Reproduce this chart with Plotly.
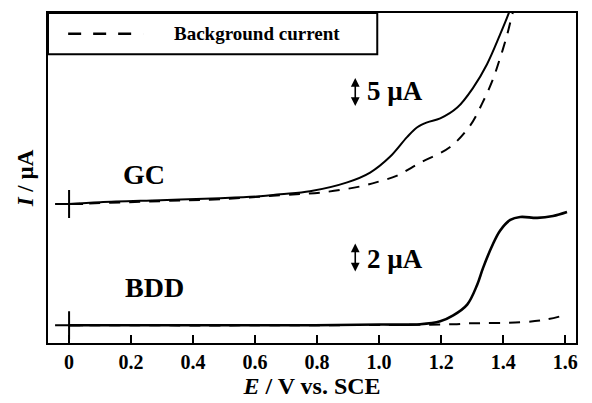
import plotly.graph_objects as go

# ---- data (E in V vs. SCE, current in µA relative to each curve's start) ----
gc_E = [0.0, 0.10, 0.294, 0.487, 0.616, 0.681, 0.777, 0.897, 0.971, 1.035, 1.09,
        1.123, 1.155, 1.197, 1.252, 1.303, 1.348, 1.39, 1.416, 1.439]
gc_I = [0.0, 0.33, 0.67, 1.0, 1.33, 1.67, 2.17, 3.67, 5.33, 8.0, 11.33,
        13.0, 13.83, 14.5, 16.33, 19.67, 23.67, 28.67, 32.0, 35.5]

gc_bg_E = [0.0, 0.294, 0.487, 0.681, 0.82, 0.94, 1.0, 1.058, 1.132, 1.229, 1.294,
           1.332, 1.365, 1.39, 1.413, 1.429, 1.448]
gc_bg_I = [0.0, 0.5, 0.83, 1.5, 2.0, 3.0, 3.83, 4.83, 7.0, 9.67, 13.33,
           17.0, 20.83, 24.67, 28.67, 32.0, 35.5]

bdd_E = [0.0, 0.423, 0.745, 1.003, 1.132, 1.197, 1.239, 1.284, 1.316, 1.335, 1.365,
         1.39, 1.423, 1.455, 1.51, 1.561, 1.606]
bdd_I = [0.0, 0.0, 0.0, 0.05, 0.07, 0.27, 0.67, 1.4, 2.73, 3.87, 5.4,
         6.4, 7.13, 7.33, 7.27, 7.4, 7.67]

bdd_bg_E = [0.0, 0.745, 1.239, 1.29, 1.455, 1.542, 1.606]
bdd_bg_I = [0.0, 0.0, 0.07, 0.13, 0.2, 0.4, 0.73]

# display stacking (offset and scale of each electrode's trace, arbitrary units)
gc_offset, gc_scale = 141, 6.0     # 5 µA bar
bdd_offset, bdd_scale = 18, 15.0   # 2 µA bar
gc_bar_uA, bdd_bar_uA = 5, 2

x_ticks = [0, 0.2, 0.4, 0.6, 0.8, 1.0, 1.2, 1.4, 1.6]
x_tick_text = ["0", "0.2", "0.4", "0.6", "0.8", "1.0", "1.2", "1.4", "1.6"]

SERIF = "Liberation Serif, Times New Roman, serif"


def tr(vals, off, sc):
    return [off + sc * v for v in vals]


fig = go.Figure()
line_solid = dict(color="black", width=2)
line_dash = dict(color="black", width=2, dash="11px,9px")

fig.add_trace(go.Scatter(x=gc_bg_E, y=tr(gc_bg_I, gc_offset, gc_scale), mode="lines",
                         line=line_dash, line_shape="spline", showlegend=False))
fig.add_trace(go.Scatter(x=gc_E, y=tr(gc_I, gc_offset, gc_scale), mode="lines",
                         line=line_solid, line_shape="spline", showlegend=False))
fig.add_trace(go.Scatter(x=bdd_bg_E, y=tr(bdd_bg_I, bdd_offset, bdd_scale), mode="lines",
                         line=line_dash, line_shape="spline", showlegend=False))
fig.add_trace(go.Scatter(x=bdd_E, y=tr(bdd_I, bdd_offset, bdd_scale), mode="lines",
                         line=dict(color="black", width=2.6), line_shape="spline",
                         showlegend=False))
# start markers
fig.add_trace(go.Scatter(x=[gc_E[0], bdd_E[0]],
                         y=[gc_offset + gc_scale * gc_I[0], bdd_offset + bdd_scale * bdd_I[0]],
                         mode="markers",
                         marker=dict(symbol="cross-thin-open", size=20, color="black",
                                     line=dict(color="black", width=2)),
                         showlegend=False))

x_range = [-0.068, 1.635]
y_range = [0, 335]

# legend box (drawn)
fig.add_shape(type="rect", xref="x", yref="y", x0=x_range[0], x1=0.994, y0=293, y1=y_range[1],
              line=dict(color="black", width=2), fillcolor="white", layer="above")
fig.add_shape(type="line", xref="x", yref="y", x0=-0.003, x1=0.239, y0=314, y1=314,
              line=dict(color="black", width=2.5, dash="13px,12px"), layer="above")
fig.add_annotation(x=0.332, y=314, xref="x", yref="y", text="Background current",
                   showarrow=False, xanchor="left", yanchor="middle",
                   font=dict(family=SERIF, size=19, color="black", weight="bold"))

# labels
fig.add_annotation(x=0.242, y=171, text="GC", showarrow=False,
                   font=dict(family=SERIF, size=28, color="black", weight="bold"))
fig.add_annotation(x=0.274, y=56, text="BDD", showarrow=False,
                   font=dict(family=SERIF, size=28, color="black", weight="bold"))
fig.add_annotation(x=0.955, y=256, text="5 µA", showarrow=False, xanchor="left",
                   font=dict(family=SERIF, size=27, color="black", weight="bold"))
fig.add_annotation(x=0.955, y=85, text="2 µA", showarrow=False, xanchor="left",
                   font=dict(family=SERIF, size=27, color="black", weight="bold"))

# scale bars
gc_bar_base = 239
bdd_bar_base = 71
for base, sc, uA in [(gc_bar_base, gc_scale, gc_bar_uA), (bdd_bar_base, bdd_scale, bdd_bar_uA)]:
    fig.add_annotation(x=0.923, y=base + sc * uA, ax=0.923, ay=base,
                       xref="x", yref="y", axref="x", ayref="y", text="",
                       showarrow=True, arrowhead=2, arrowside="end+start",
                       arrowsize=1.1, arrowwidth=1.6, arrowcolor="black")

fig.update_layout(
    width=592, height=403,
    margin=dict(l=48, r=16, t=11, b=57),
    paper_bgcolor="white", plot_bgcolor="white",
    font=dict(family=SERIF, color="black"),
)
fig.update_xaxes(range=x_range, tickmode="array", tickvals=x_ticks, ticktext=x_tick_text,
                 ticks="inside", ticklen=8, tickwidth=2, tickcolor="black",
                 showline=True, linecolor="black", linewidth=2, mirror=True,
                 showgrid=False, zeroline=False,
                 tickfont=dict(family=SERIF, size=20, color="black", weight="bold"),
                 title=dict(text="<i>E</i> / V vs. SCE", standoff=2,
                            font=dict(family=SERIF, size=24, color="black", weight="bold")))
fig.update_yaxes(range=y_range, showticklabels=False, ticks="",
                 showline=True, linecolor="black", linewidth=2, mirror=True,
                 showgrid=False, zeroline=False,
                 title=dict(text="<i>I</i> / µA", standoff=6,
                            font=dict(family=SERIF, size=23, color="black", weight="bold")))

fig.write_html("out.html")
